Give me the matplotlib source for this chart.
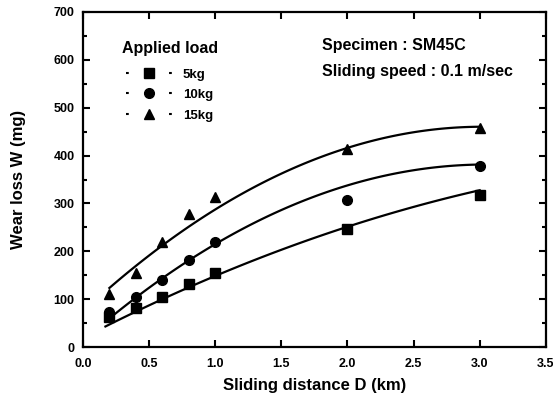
import numpy as np
import matplotlib
matplotlib.use("Agg")
import matplotlib.pyplot as plt
from matplotlib.lines import Line2D
from matplotlib.ticker import MultipleLocator, FormatStrFormatter

plt.rcParams['font.family'] = ['Liberation Sans', 'DejaVu Sans']
plt.rcParams['font.weight'] = 'bold'

# measured data
distance = [0.2, 0.4, 0.6, 0.8, 1.0, 2.0, 3.0]
wear_5kg = [62, 81, 104, 132, 154, 246, 318]
wear_10kg = [74, 104, 141, 182, 220, 308, 379]
wear_15kg = [110, 155, 220, 277, 313, 413, 458]

# fitted trend curves
fit_x = [0.2, 0.6, 1.0, 2.0, 3.0]
fit_5kg = [42, 104, 154, 244, 330]
fit_10kg = [60, 140, 220, 335, 382]
fit_15kg = [119, 217, 290, 411, 462]
fit_start = [0.17, 0.2, 0.2]

labels = ['5kg', '10kg', '15kg']
markers = ['s', 'o', '^']

fig = plt.figure(figsize=(5.53, 4.0), dpi=100)
ax = fig.add_axes([0.150, 0.1325, 0.837, 0.8375])

series = [wear_5kg, wear_10kg, wear_15kg]
fits = [fit_5kg, fit_10kg, fit_15kg]
for vals, fvals, mk, x0 in zip(series, fits, markers, fit_start):
    ax.plot(distance, vals, linestyle='none', marker=mk, color='black',
            markersize=7)
    coef = np.polyfit(fit_x, fvals, 2)
    xs = np.linspace(x0, 3.0, 100)
    ax.plot(xs, np.polyval(coef, xs), color='black', lw=1.6)

ax.set_xlim(0, 3.5)
ax.set_ylim(0, 700)
ax.xaxis.set_major_locator(MultipleLocator(0.5))
ax.yaxis.set_major_locator(MultipleLocator(100))
ax.yaxis.set_minor_locator(MultipleLocator(50))
ax.xaxis.set_major_formatter(FormatStrFormatter('%.1f'))
ax.tick_params(which='both', direction='in', top=True, right=True,
               width=1.5, labelsize=9)
ax.tick_params(which='major', length=5)
ax.tick_params(which='minor', length=3)
ax.tick_params(axis='x', which='major', pad=8)
ax.tick_params(axis='y', which='major', pad=6)
for s in ax.spines.values():
    s.set_linewidth(1.6)

ax.set_xlabel('Sliding distance D (km)', fontsize=12, fontweight='bold')
ax.set_ylabel('Wear loss W (mg)', fontsize=12, fontweight='bold')
ax.xaxis.set_label_coords(0.5, -0.093)
ax.yaxis.set_label_coords(-0.123, 0.5)

handles = [Line2D([0], [0], color='black', lw=1.5,
                  linestyle=(0, (1.33, 19.33)),
                  marker=m, markersize=7) for m in markers]
leg = ax.legend(handles, labels, loc='upper left',
                bbox_to_anchor=(0.058, 0.949), frameon=False, fontsize=9.5,
                handlelength=3.5, title='Applied load',
                title_fontproperties={'weight': 'bold', 'size': 11.5},
                labelspacing=0.62)
leg._legend_box.sep = 9
for t in leg.get_texts():
    t.set_fontweight('bold')

ax.text(0.516, 0.901, 'Specimen : SM45C', transform=ax.transAxes,
        fontsize=11.5, fontweight='bold', va='center')
ax.text(0.516, 0.821, 'Sliding speed : 0.1 m/sec', transform=ax.transAxes,
        fontsize=11.5, fontweight='bold', va='center')

fig.savefig('out.png', dpi=100)
